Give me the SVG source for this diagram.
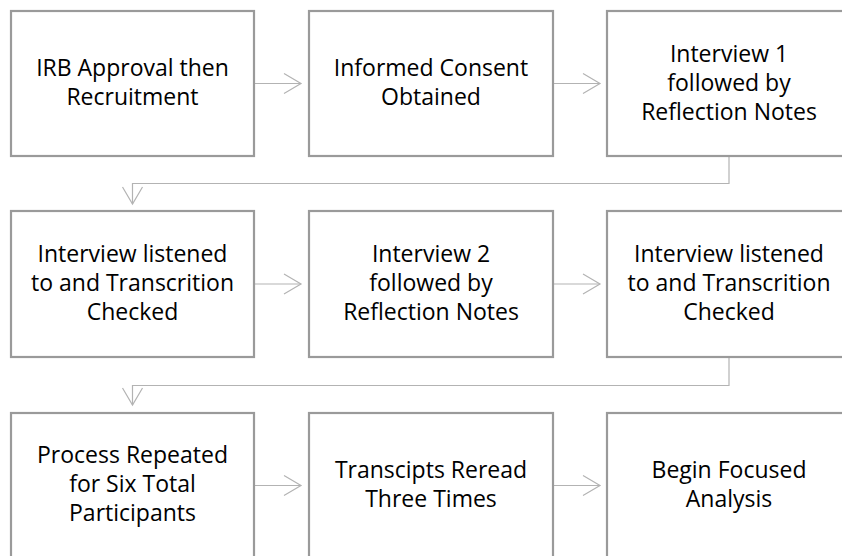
<svg xmlns="http://www.w3.org/2000/svg" width="842" height="556" viewBox="0 0 842 556">
<style>
.box{fill:#ffffff;stroke:#9a9a9a;stroke-width:2.2}
.lbl{font-family:"Open Sans","Liberation Sans",sans-serif;font-size:23px;fill:#000000;text-anchor:middle}
.con{fill:none;stroke:#b3b3b3;stroke-width:1.2}
</style>
<defs>
<marker id="arr" markerUnits="userSpaceOnUse" markerWidth="20" markerHeight="24" viewBox="-18 -12 20 24" refX="0" refY="0" orient="auto">
<path d="M-17,-10 L0,0 L-17,10" fill="none" stroke="#b3b3b3" stroke-width="1.2"/>
</marker>
</defs>
<rect width="842" height="556" fill="#ffffff"/>
<g id="connectors">
<line class="con" x1="255" y1="83.5" x2="301" y2="83.5" marker-end="url(#arr)"/>
<line class="con" x1="554" y1="83.5" x2="600" y2="83.5" marker-end="url(#arr)"/>
<path class="con" d="M729,157 V183.5 H132.5 V204" marker-end="url(#arr)"/>
<line class="con" x1="255" y1="284" x2="301" y2="284" marker-end="url(#arr)"/>
<line class="con" x1="554" y1="284" x2="600" y2="284" marker-end="url(#arr)"/>
<path class="con" d="M729,358 V385.5 H132.5 V405" marker-end="url(#arr)"/>
<line class="con" x1="255" y1="485.5" x2="301" y2="485.5" marker-end="url(#arr)"/>
<line class="con" x1="554" y1="485.5" x2="600" y2="485.5" marker-end="url(#arr)"/>
</g>
<g id="n1"><rect class="box" x="11" y="11" width="243" height="145"/>
<text class="lbl"><tspan x="132.5" y="76">IRB Approval then</tspan><tspan x="132.5" y="105">Recruitment</tspan></text></g>
<g id="n2"><rect class="box" x="309" y="11" width="244" height="145"/>
<text class="lbl"><tspan x="431" y="76">Informed Consent</tspan><tspan x="431" y="105">Obtained</tspan></text></g>
<g id="n3"><rect class="box" x="607" y="11" width="244" height="145"/>
<text class="lbl"><tspan x="729" y="61.5">Interview 1</tspan><tspan x="729" y="90.5">followed by</tspan><tspan x="729" y="119.5">Reflection Notes</tspan></text></g>
<g id="n4"><rect class="box" x="11" y="211" width="243" height="146"/>
<text class="lbl"><tspan x="132.5" y="262">Interview listened</tspan><tspan x="132.5" y="291">to and Transcrition</tspan><tspan x="132.5" y="320">Checked</tspan></text></g>
<g id="n5"><rect class="box" x="309" y="211" width="244" height="146"/>
<text class="lbl"><tspan x="431" y="262">Interview 2</tspan><tspan x="431" y="291">followed by</tspan><tspan x="431" y="320">Reflection Notes</tspan></text></g>
<g id="n6"><rect class="box" x="607" y="211" width="244" height="146"/>
<text class="lbl"><tspan x="729" y="262">Interview listened</tspan><tspan x="729" y="291">to and Transcrition</tspan><tspan x="729" y="320">Checked</tspan></text></g>
<g id="n7"><rect class="box" x="11" y="413" width="243" height="146"/>
<text class="lbl"><tspan x="132.5" y="463">Process Repeated</tspan><tspan x="132.5" y="492">for Six Total</tspan><tspan x="132.5" y="521">Participants</tspan></text></g>
<g id="n8"><rect class="box" x="309" y="413" width="244" height="146"/>
<text class="lbl"><tspan x="431" y="478">Transcipts Reread</tspan><tspan x="431" y="507">Three Times</tspan></text></g>
<g id="n9"><rect class="box" x="607" y="413" width="244" height="146"/>
<text class="lbl"><tspan x="729" y="478">Begin Focused</tspan><tspan x="729" y="507">Analysis</tspan></text></g>
</svg>
